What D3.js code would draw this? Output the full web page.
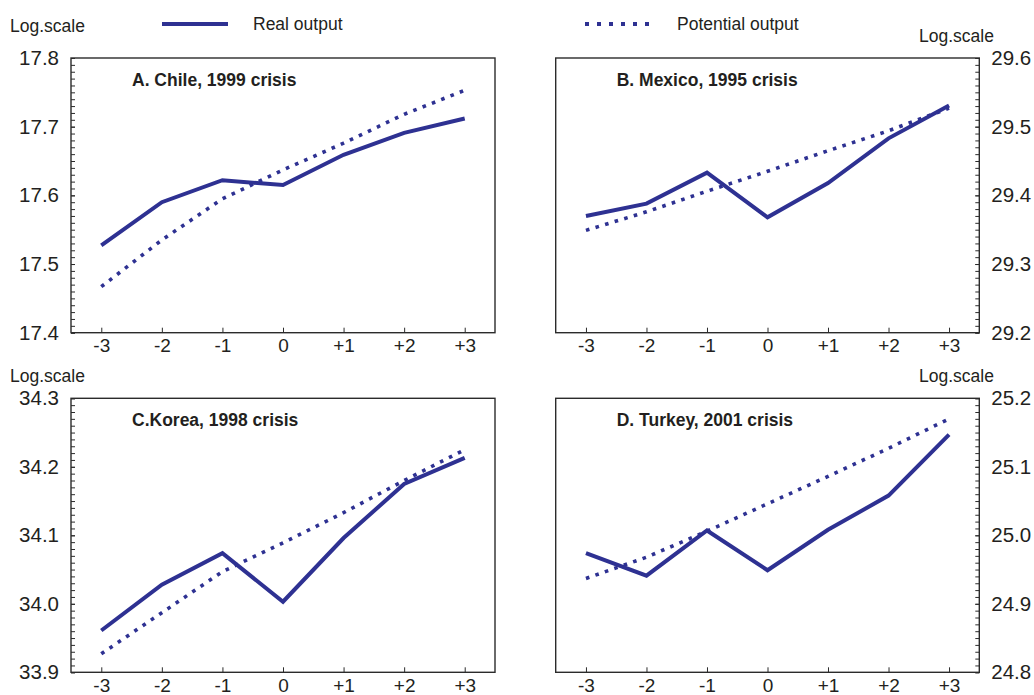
<!DOCTYPE html>
<html>
<head>
<meta charset="utf-8">
<script src="https://cdn.jsdelivr.net/npm/d3@7/dist/d3.min.js"></script>
<style>
  html, body { margin: 0; padding: 0; background: #fff; }
  svg { display: block; }
  text { font-family: "Liberation Sans", Arial, Helvetica, sans-serif; fill: #231f20; }
</style>
</head>
<body>
<svg id="chart" width="1034" height="695"></svg>
<script>
// Years around the crisis (0 = crisis year) and their axis labels
const periods = [-3, -2, -1, 0, 1, 2, 3];
const periodLabels = ["-3", "-2", "-1", "0", "+1", "+2", "+3"];

// Log of output, real vs potential
const chileReal      = [17.527, 17.590, 17.622, 17.615, 17.659, 17.691, 17.712];
const chilePotential = [17.467, 17.535, 17.595, 17.637, 17.676, 17.718, 17.753];

const mexicoReal      = [29.370, 29.388, 29.433, 29.368, 29.418, 29.483, 29.531];
const mexicoPotential = [29.349, 29.376, 29.406, 29.435, 29.465, 29.494, 29.527];

const koreaReal      = [33.961, 34.028, 34.074, 34.003, 34.096, 34.175, 34.213];
const koreaPotential = [33.927, 33.987, 34.047, 34.089, 34.133, 34.180, 34.225];

const turkeyReal      = [24.974, 24.941, 25.007, 24.949, 25.008, 25.058, 25.147];
const turkeyPotential = [24.937, 24.968, 25.006, 25.046, 25.086, 25.127, 25.170];

// Axis tick values for each panel
const chileTicks  = [17.4, 17.5, 17.6, 17.7, 17.8];
const mexicoTicks = [29.2, 29.3, 29.4, 29.5, 29.6];
const koreaTicks  = [33.9, 34.0, 34.1, 34.2, 34.3];
const turkeyTicks = [24.8, 24.9, 25.0, 25.1, 25.2];

const panelTitles = ["A. Chile, 1999 crisis", "B. Mexico, 1995 crisis", "C.Korea, 1998 crisis", "D. Turkey, 2001 crisis"];
const seriesNames = ["Real output", "Potential output"];
const axisUnit = "Log.scale";

const INK = "#2e3192";
const AXIS = "#2b2b2b";

const svg = d3.select("#chart");
svg.append("rect").attr("width", 1034).attr("height", 695).attr("fill", "#fff");

const panels = [
  { title: panelTitles[0], real: chileReal,  pot: chilePotential,  ticks: chileTicks,  side: "left",
    x0: 71, x1: 495, y0: 58, y1: 332.7, unitX: 10, unitY: 32 },
  { title: panelTitles[1], real: mexicoReal, pot: mexicoPotential, ticks: mexicoTicks, side: "right",
    x0: 555.7, x1: 979.3, y0: 58, y1: 332.7, unitX: 919, unitY: 42 },
  { title: panelTitles[2], real: koreaReal,  pot: koreaPotential,  ticks: koreaTicks,  side: "left",
    x0: 71, x1: 495, y0: 398.3, y1: 672.3, unitX: 10, unitY: 382 },
  { title: panelTitles[3], real: turkeyReal, pot: turkeyPotential, ticks: turkeyTicks, side: "right",
    x0: 555.7, x1: 979.3, y0: 398.3, y1: 672.3, unitX: 919, unitY: 382 }
];

panels.forEach(p => {
  const g = svg.append("g");
  const x = d3.scaleLinear().domain([-3.5, 3.5]).range([p.x0, p.x1]);
  const lo = p.ticks[0], hi = p.ticks[p.ticks.length - 1];
  const y = d3.scaleLinear().domain([lo, hi]).range([p.y1, p.y0]);

  // minor ticks every 0.01
  const minor = d3.range(0, 41).map(i => +(lo + i * 0.01).toFixed(3));
  const yMinor = (p.side === "left" ? d3.axisLeft(y) : d3.axisRight(y))
    .tickValues(minor).tickSize(-4).tickFormat("");
  const yMajor = (p.side === "left" ? d3.axisLeft(y) : d3.axisRight(y))
    .tickValues(p.ticks).tickSize(-4).tickPadding(12).tickFormat(d3.format(".1f"));

  const ax = p.side === "left" ? p.x0 : p.x1;
  g.append("g").attr("transform", `translate(${ax},0)`).call(yMinor)
    .call(s => s.select(".domain").remove())
    .call(s => s.selectAll("line").attr("stroke", AXIS).attr("stroke-width", 1));
  g.append("g").attr("transform", `translate(${ax},0)`).call(yMajor)
    .call(s => s.select(".domain").remove())
    .call(s => s.selectAll("line").attr("stroke", AXIS).attr("stroke-width", 1))
    .call(s => s.selectAll("text").attr("font-size", 20.5).attr("fill", "#231f20")
      .attr("font-family", "'Liberation Sans', Arial, sans-serif"));

  const xAxis = d3.axisBottom(x).tickValues(periods).tickSize(-5).tickPadding(6)
    .tickFormat((d, i) => periodLabels[i]);
  g.append("g").attr("transform", `translate(0,${p.y1})`).call(xAxis)
    .call(s => s.select(".domain").remove())
    .call(s => s.selectAll("line").attr("stroke", AXIS).attr("stroke-width", 1))
    .call(s => s.selectAll("text").attr("font-size", 19).attr("fill", "#231f20")
      .attr("font-family", "'Liberation Sans', Arial, sans-serif"));

  // frame
  g.append("rect").attr("x", p.x0).attr("y", p.y0)
    .attr("width", p.x1 - p.x0).attr("height", p.y1 - p.y0)
    .attr("fill", "none").attr("stroke", AXIS).attr("stroke-width", 1.4);

  const line = d3.line().x((d, i) => x(periods[i])).y(d => y(d));

  g.append("path").datum(p.pot).attr("d", line)
    .attr("fill", "none").attr("stroke", INK).attr("stroke-width", 3.6)
    .attr("stroke-dasharray", "3.6 6.4").attr("stroke-linecap", "butt");

  g.append("path").datum(p.real).attr("d", line)
    .attr("fill", "none").attr("stroke", INK).attr("stroke-width", 4)
    .attr("stroke-linejoin", "miter").attr("stroke-linecap", "butt");

  g.append("text").attr("x", p.x0 + 61).attr("y", p.y0 + 28)
    .attr("font-size", 17.5).attr("font-weight", "bold").text(p.title);

  g.append("text").attr("x", p.unitX).attr("y", p.unitY)
    .attr("font-size", 17.5).text(axisUnit);
});

// legend
const legend = svg.append("g");
legend.append("line").attr("x1", 162).attr("x2", 228).attr("y1", 24).attr("y2", 24)
  .attr("stroke", INK).attr("stroke-width", 4);
legend.append("text").attr("x", 253).attr("y", 30).attr("font-size", 17.5).text(seriesNames[0]);
legend.append("line").attr("x1", 585).attr("x2", 650).attr("y1", 24).attr("y2", 24)
  .attr("stroke", INK).attr("stroke-width", 4).attr("stroke-dasharray", "4 8");
legend.append("text").attr("x", 677).attr("y", 30).attr("font-size", 17.5).text(seriesNames[1]);
</script>
</body>
</html>
